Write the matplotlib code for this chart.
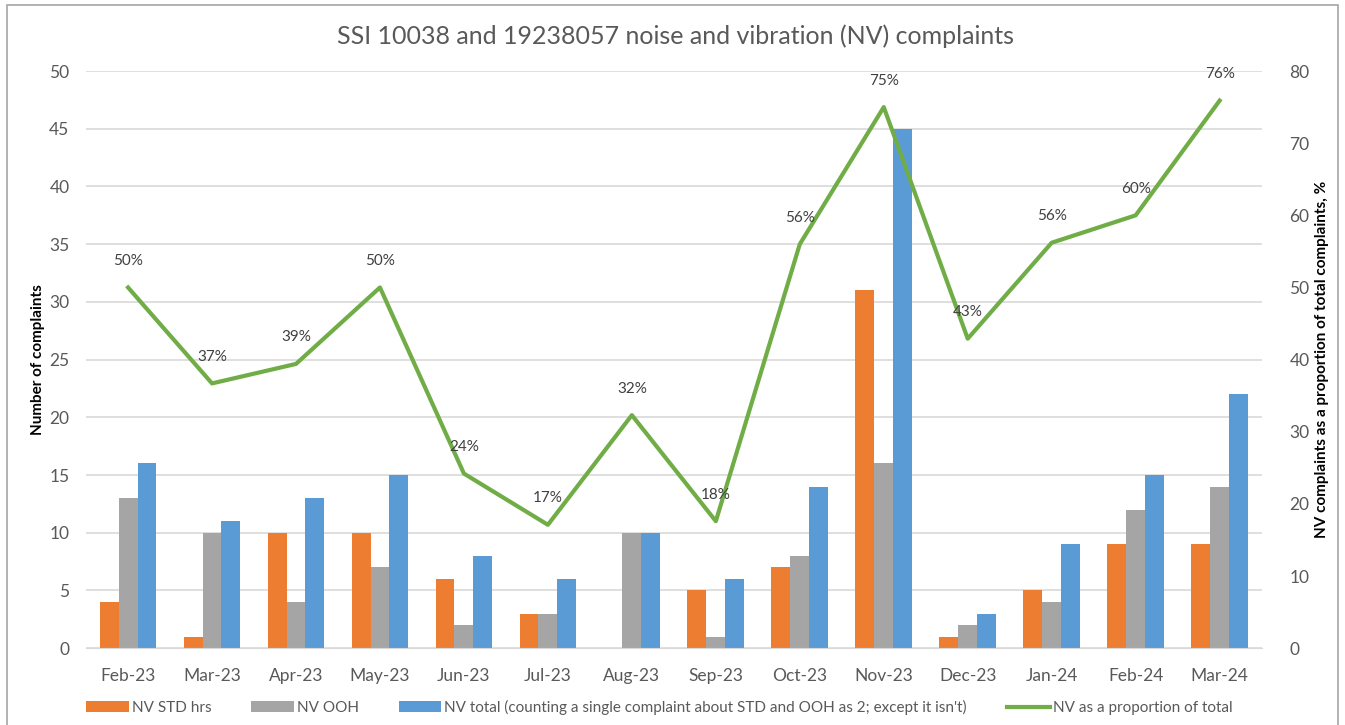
import matplotlib.pyplot as plt
import numpy as np
from matplotlib.patches import Rectangle

plt.rcParams['font.family'] = ['Lato', 'DejaVu Sans']

months = ['Feb-23', 'Mar-23', 'Apr-23', 'May-23', 'Jun-23', 'Jul-23', 'Aug-23',
          'Sep-23', 'Oct-23', 'Nov-23', 'Dec-23', 'Jan-24', 'Feb-24', 'Mar-24']
nv_std = [4, 1, 10, 10, 6, 3, 0, 5, 7, 31, 1, 5, 9, 9]
nv_ooh = [13, 10, 4, 7, 2, 3, 10, 1, 8, 16, 2, 4, 12, 14]
nv_total = [16, 11, 13, 15, 8, 6, 10, 6, 14, 45, 3, 9, 15, 22]
nv_pct = [50, 36.7, 39.4, 50, 24.2, 17.1, 32.3, 17.6, 56, 75, 42.9, 56.2, 60, 75.9]

orange = '#ed7d31'
grey = '#a5a5a5'
blue = '#5b9bd5'
green = '#70ad47'
txt = '#595959'

fig = plt.figure(figsize=(13.45, 7.25), dpi=100)
ax = fig.add_axes([0.064, 0.106, 0.874, 0.796])
ax2 = ax.twinx()

x = np.arange(len(months))
w = 0.225
ax.bar(x - w, nv_std, w, color=orange, label='NV STD hrs', zorder=2)
ax.bar(x, nv_ooh, w, color=grey, label='NV OOH', zorder=2)
ax.bar(x + w, nv_total, w, color=blue,
       label="NV total (counting a single complaint about STD and OOH as 2; except it isn't)", zorder=2)

ax2.plot(x, nv_pct, color=green, lw=3, label='NV as a proportion of total', zorder=3)
for xi, p in zip(x, nv_pct):
    ax2.annotate(f'{p:.0f}%', (xi, p), xytext=(0, 14), textcoords='offset points',
                 ha='center', va='bottom', fontsize=11, color='#404040')

ax.set_xlim(-0.5, len(months) - 0.5)
ax.set_ylim(0, 50)
ax.set_yticks(range(0, 51, 5))
ax2.set_ylim(0, 80)
ax2.set_yticks(range(0, 81, 10))
ax.set_xticks(x)
ax.set_xticklabels(months)

ax.yaxis.grid(True, color='#d9d9d9', lw=1.2, zorder=0)
ax.set_axisbelow(True)
for a in (ax, ax2):
    for s in a.spines.values():
        s.set_visible(False)
    a.tick_params(length=0, labelsize=12.5, colors=txt)
ax.spines['bottom'].set_visible(True)
ax.spines['bottom'].set_color('#d9d9d9')
ax.tick_params(axis='x', pad=14)
ax.tick_params(axis='y', pad=12)
ax2.tick_params(axis='y', pad=20)

ax.set_ylabel('Number of complaints', fontsize=11, fontweight='bold', color='black', labelpad=3)
ax2.set_ylabel('NV complaints as a proportion of total complaints, %', fontsize=11,
               fontweight='bold', color='black', labelpad=4)

fig.text(0.502, 0.95, 'SSI 10038 and 19238057 noise and vibration (NV) complaints',
         ha='center', va='center', fontsize=18, color=txt)

h1, l1 = ax.get_legend_handles_labels()
h2, l2 = ax2.get_legend_handles_labels()
fig.legend(h1 + h2, l1 + l2, loc='center', bbox_to_anchor=(0.49, 0.024), ncol=4,
           frameon=False, fontsize=11, labelcolor=txt, handlelength=2.8, handleheight=0.7,
           columnspacing=2.6, handletextpad=0.2)

fig.patches.append(Rectangle((0.005, -0.01), 0.99, 1.003, transform=fig.transFigure,
                             fill=False, edgecolor='#a6a6a6', lw=1.2))

fig.savefig('out.png', dpi=100)
